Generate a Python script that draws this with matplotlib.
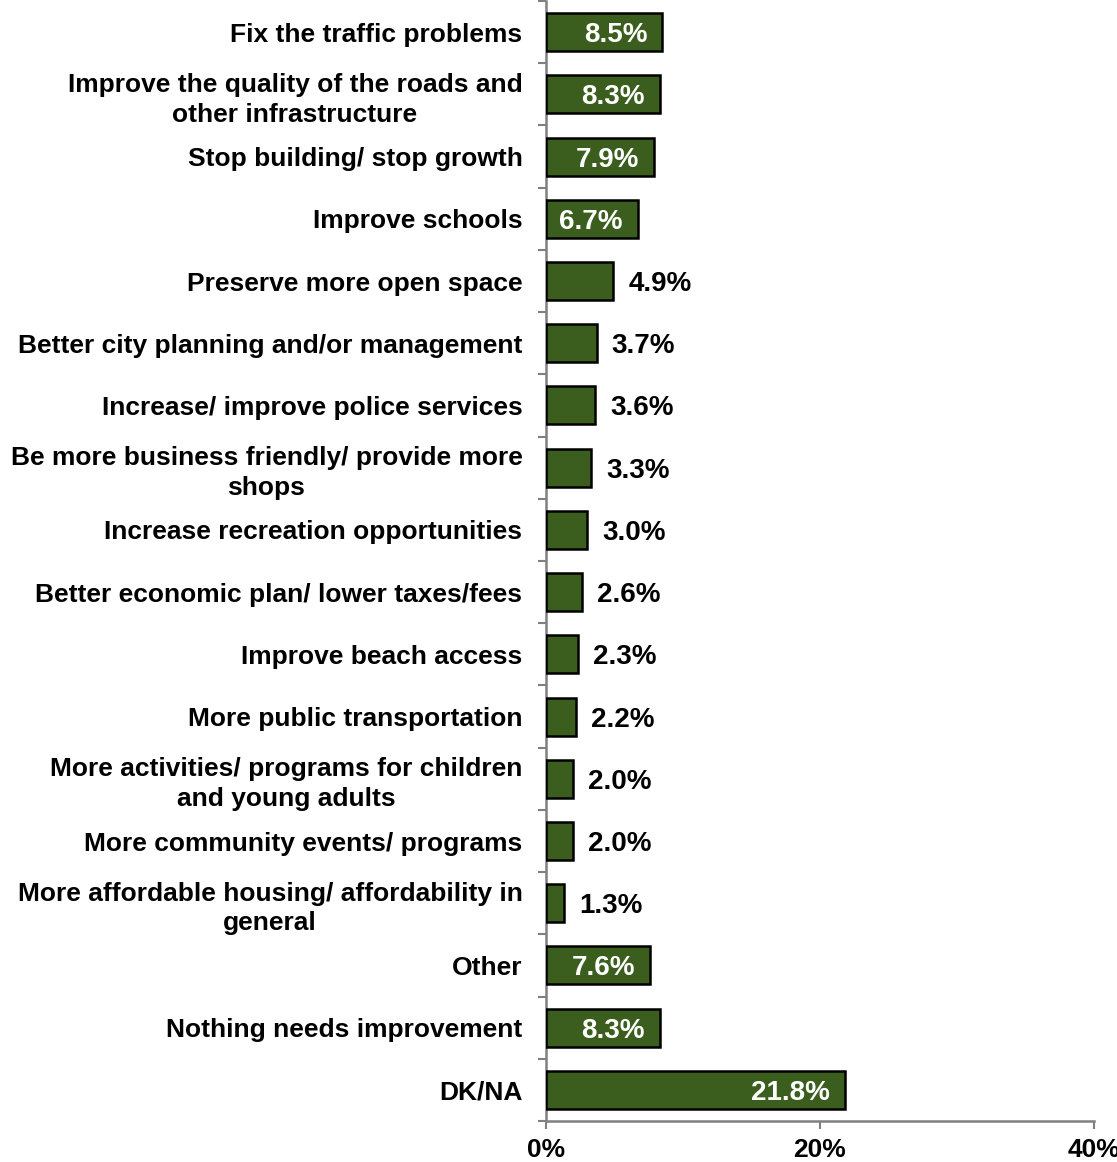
import matplotlib
matplotlib.use("Agg")
import matplotlib.pyplot as plt
import numpy as np

categories = [
    "Fix the traffic problems",
    "Improve the quality of the roads and\nother infrastructure",
    "Stop building/ stop growth",
    "Improve schools",
    "Preserve more open space",
    "Better city planning and/or management",
    "Increase/ improve police services",
    "Be more business friendly/ provide more\nshops",
    "Increase recreation opportunities",
    "Better economic plan/ lower taxes/fees",
    "Improve beach access",
    "More public transportation",
    "More activities/ programs for children\nand young adults",
    "More community events/ programs",
    "More affordable housing/ affordability in\ngeneral",
    "Other",
    "Nothing needs improvement",
    "DK/NA",
]
values = [8.5, 8.3, 7.9, 6.7, 4.9, 3.7, 3.6, 3.3, 3.0, 2.6, 2.3, 2.2, 2.0, 2.0, 1.3, 7.6, 8.3, 21.8]
xticks = [0, 20, 40]
xtick_labels = ["0%", "20%", "40%"]

plt.rcParams['font.family'] = ['Liberation Sans', 'DejaVu Sans']

W, H = 1117, 1162
fig = plt.figure(figsize=(W / 100, H / 100), dpi=100)
left, right = 546 / W, 1094 / W
top, bottom = 1 - 1 / H, 1 - 1121 / H
ax = fig.add_axes([left, bottom, right - left, top - bottom])

n = len(categories)
y = np.arange(n)
green = "#3b5e1e"
gray = "#808080"
ax.barh(y, values, height=0.61, color=green, edgecolor="black", linewidth=1.8, zorder=3)

ax.set_xlim(0, 40)
ax.set_ylim(n - 0.5, -0.5)

for yi, v in zip(y, values):
    txt = f"{v:.1f}%"
    if v > 6:
        ax.annotate(txt, xy=(v, yi), xytext=(-15, 0), textcoords="offset pixels",
                    ha="right", va="center_baseline", color="white", fontsize=20,
                    fontweight="bold", zorder=4)
    else:
        ax.annotate(txt, xy=(v, yi), xytext=(15, 0), textcoords="offset pixels",
                    ha="left", va="center_baseline", color="black", fontsize=20,
                    fontweight="bold", zorder=4)

ax.set_yticks(y)
ax.set_yticklabels(categories, fontsize=19, fontweight="bold", linespacing=1.3)
for lbl in ax.get_yticklabels():
    lbl.set_multialignment("center")
ax.set_yticks(np.arange(n + 1) - 0.5, minor=True)
ax.tick_params(axis="y", which="major", length=0, pad=17)
ax.tick_params(axis="y", which="minor", length=6, width=1.5, color=gray, left=True)

ax.set_xticks(xticks)
ax.set_xticklabels(xtick_labels, fontsize=19, fontweight="bold")
ax.tick_params(axis="x", which="major", length=6, width=1.5, color=gray, pad=6)

for s in ["top", "right"]:
    ax.spines[s].set_visible(False)
for s in ["left", "bottom"]:
    ax.spines[s].set_color(gray)
    ax.spines[s].set_linewidth(1.8)

fig.savefig("out.png", dpi=100)
